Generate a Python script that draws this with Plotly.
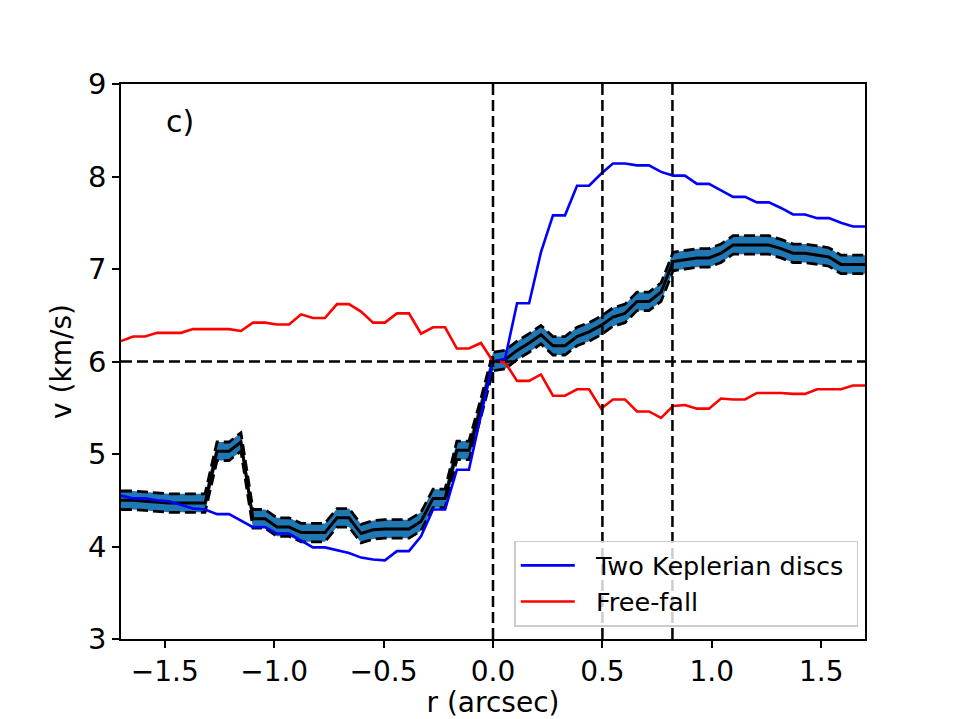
import plotly.graph_objects as go

r = [-1.700, -1.645, -1.590, -1.535, -1.481, -1.426, -1.371, -1.316, -1.261, -1.206,
     -1.152, -1.097, -1.042, -0.987, -0.932, -0.877, -0.823, -0.768, -0.713, -0.658,
     -0.603, -0.548, -0.494, -0.439, -0.384, -0.329, -0.274, -0.219, -0.165, -0.110,
     -0.055, 0.000,
     0.055, 0.110, 0.165, 0.219, 0.274, 0.329, 0.384, 0.439, 0.494, 0.548,
     0.603, 0.658, 0.713, 0.768, 0.823, 0.877, 0.932, 0.987, 1.042, 1.097,
     1.152, 1.206, 1.261, 1.316, 1.371, 1.426, 1.481, 1.535, 1.590, 1.645, 1.700]

kepler = [4.55, 4.52, 4.52, 4.50, 4.49, 4.45, 4.41, 4.40, 4.35, 4.35,
          4.28, 4.21, 4.21, 4.14, 4.14, 4.06, 3.99, 3.99, 3.96, 3.93,
          3.88, 3.86, 3.85, 3.95, 3.95, 4.11, 4.40, 4.40, 4.83, 4.83,
          5.42, 6.00,
          6.03, 6.63, 6.63, 7.18, 7.58, 7.58, 7.90, 7.90, 8.03, 8.14,
          8.14, 8.12, 8.12, 8.05, 8.01, 8.01, 7.92, 7.92, 7.85, 7.78,
          7.78, 7.72, 7.72, 7.66, 7.59, 7.59, 7.55, 7.55, 7.50, 7.46, 7.46]

freefall = [6.22, 6.27, 6.27, 6.31, 6.31, 6.31, 6.35, 6.35, 6.35, 6.35,
            6.33, 6.42, 6.42, 6.40, 6.40, 6.51, 6.47, 6.47, 6.62, 6.62,
            6.54, 6.42, 6.42, 6.52, 6.52, 6.30, 6.37, 6.37, 6.14, 6.14,
            6.20, 6.00,
            5.99, 5.79, 5.79, 5.86, 5.63, 5.63, 5.70, 5.70, 5.49, 5.59,
            5.59, 5.46, 5.46, 5.39, 5.52, 5.53, 5.49, 5.49, 5.60, 5.59,
            5.59, 5.66, 5.66, 5.66, 5.65, 5.65, 5.70, 5.70, 5.70, 5.74, 5.74]

observed = [4.50, 4.50, 4.49, 4.48, 4.47, 4.47, 4.47, 4.47, 5.03, 5.03,
            5.13, 4.30, 4.30, 4.21, 4.21, 4.15, 4.15, 4.15, 4.31, 4.31,
            4.14, 4.18, 4.19, 4.19, 4.19, 4.27, 4.52, 4.52, 5.04, 5.04,
            5.50, 6.00,
            6.02, 6.12, 6.20, 6.29, 6.17, 6.17, 6.27, 6.32, 6.39, 6.48,
            6.52, 6.65, 6.65, 6.75, 7.08, 7.10, 7.12, 7.12, 7.17, 7.26,
            7.26, 7.26, 7.26, 7.22, 7.17, 7.17, 7.15, 7.13, 7.05, 7.05, 7.05]

uncertainty = 0.1

vlines = [0.0, 0.5, 0.82]
hline = 6.0

xticks = [-1.5, -1.0, -0.5, 0.0, 0.5, 1.0, 1.5]
xticklabels = ["\u22121.5", "\u22121.0", "\u22120.5", "0.0", "0.5", "1.0", "1.5"]
yticks = [3, 4, 5, 6, 7, 8, 9]

upper = [v + uncertainty for v in observed]
lower = [v - uncertainty for v in observed]

FONT = "DejaVu Sans"
DASH = "11px,5px"
NB = "\u00a0\u00a0"

fig = go.Figure()
fig.add_trace(go.Scatter(x=r, y=lower, mode="lines", line=dict(width=0),
                         showlegend=False, hoverinfo="skip"))
fig.add_trace(go.Scatter(x=r, y=upper, mode="lines", line=dict(width=0),
                         fill="tonexty", fillcolor="#1f77b4",
                         showlegend=False, hoverinfo="skip"))
fig.add_trace(go.Scatter(x=r, y=upper, mode="lines",
                         line=dict(color="black", width=2.8, dash=DASH),
                         showlegend=False))
fig.add_trace(go.Scatter(x=r, y=lower, mode="lines",
                         line=dict(color="black", width=2.8, dash=DASH),
                         showlegend=False))
fig.add_trace(go.Scatter(x=r, y=observed, mode="lines",
                         line=dict(color="black", width=3),
                         showlegend=False))
fig.add_trace(go.Scatter(x=r, y=kepler, mode="lines",
                         name=NB + "Two Keplerian discs\u00a0",
                         legendgroup="a", legendrank=1,
                         line=dict(color="blue", width=2.6)))
fig.add_trace(go.Scatter(x=r, y=freefall, mode="lines", name=NB + "Free-fall",
                         legendgroup="b", legendrank=2,
                         line=dict(color="red", width=2.6)))

for xv in vlines:
    fig.add_shape(type="line", xref="x", yref="paper", x0=xv, x1=xv, y0=0, y1=1,
                  line=dict(color="black", width=2.5, dash=DASH), layer="above")
fig.add_shape(type="line", xref="paper", yref="y", x0=0, x1=1, y0=hline, y1=hline,
              line=dict(color="black", width=2.5, dash=DASH), layer="above")

fig.add_annotation(x=-1.43, y=8.59, xref="x", yref="y", text="c)", showarrow=False,
                   font=dict(family=FONT, size=30, color="black"))

fig.update_layout(
    width=961, height=719, autosize=False,
    margin=dict(l=121, r=96, t=84, b=80, pad=0),
    paper_bgcolor="white", plot_bgcolor="white",
    font=dict(family=FONT, size=28, color="black"),
    legend=dict(x=0.991, y=0.022, xanchor="right", yanchor="bottom",
                traceorder="normal",
                bgcolor="rgba(255,255,255,0.8)", bordercolor="#cccccc", borderwidth=1.5,
                font=dict(family=FONT, size=25.5, color="black"), itemwidth=54,
                tracegroupgap=4),
)
fig.update_xaxes(range=[-1.7, 1.7], tickvals=xticks, ticktext=xticklabels,
                 ticks="outside", ticklen=7, tickwidth=1.7, tickcolor="black",
                 showline=True, linecolor="black", linewidth=1.7, mirror=True,
                 showgrid=False, zeroline=False, automargin=False,
                 title=dict(text="r (arcsec)", standoff=8,
                            font=dict(family=FONT, size=28)),
                 tickfont=dict(family=FONT, size=28))
fig.update_yaxes(range=[3, 9], tickvals=yticks,
                 ticks="outside", ticklen=7, tickwidth=1.7, tickcolor="black",
                 showline=True, linecolor="black", linewidth=1.7, mirror=True,
                 showgrid=False, zeroline=False, automargin=False,
                 title=dict(text="v (km/s)", standoff=8,
                            font=dict(family=FONT, size=28)),
                 tickfont=dict(family=FONT, size=29))

fig.write_html("out.html")
